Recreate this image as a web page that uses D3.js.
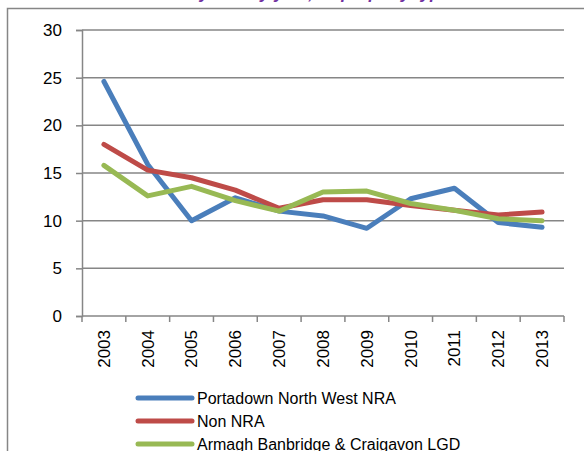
<!DOCTYPE html>
<html>
<head>
<meta charset="utf-8">
<script src="https://cdn.jsdelivr.net/npm/d3@7"></script>
<style>
  body { margin: 0; background: #fff; }
  svg text { font-family: "Liberation Sans", Arial, sans-serif; fill: #000; }
</style>
</head>
<body>
<svg id="chart" width="584" height="451"></svg>
<script>
// data
var years = ['2003', '2004', '2005', '2006', '2007', '2008', '2009', '2010', '2011', '2012', '2013'];
var portadown = [24.6, 15.9, 10.0, 12.4, 11.0, 10.5, 9.2, 12.3, 13.4, 9.8, 9.3];
var nonNra = [18.0, 15.3, 14.5, 13.2, 11.3, 12.2, 12.2, 11.6, 11.1, 10.6, 10.9];
var armagh = [15.8, 12.6, 13.6, 12.1, 11.0, 13.0, 13.1, 11.8, 11.1, 10.2, 10.0];
var seriesNames = ['Portadown North West NRA', 'Non NRA', 'Armagh Banbridge & Craigavon LGD'];
var seriesColors = ['#4a7ebb', '#be4b48', '#98b954'];
var yTicks = [0, 5, 10, 15, 20, 25, 30];

var svg = d3.select('#chart');
var margin = {top: 30, left: 82, right: 20, bottom: 135};
var width = 564 - margin.left;
var height = 316 - margin.top;

// frame and clipped title
svg.append('path')
    .attr('d', 'M7.5,451 L7.5,8.5 L584,8.5')
    .style('fill', 'none')
    .style('stroke', '#868686')
    .style('stroke-width', 1.5);

svg.append('text')
    .attr('x', 300)
    .attr('y', -1)
    .attr('text-anchor', 'middle')
    .style('font-weight', 'bold')
    .style('font-style', 'italic')
    .style('font-size', '17px')
    .style('fill', '#7030a0')
    .text('Vacancy rate by year, all property types');

var g = svg.append('g')
    .attr('transform', 'translate(' + margin.left + ',' + margin.top + ')');

var x = d3.scaleBand().domain(years).range([0, width]);
var y = d3.scaleLinear().domain([0, 30]).range([height, 0]);

// gridlines
g.selectAll('.grid')
    .data(yTicks.slice(1))
    .enter().append('line')
    .attr('class', 'grid')
    .attr('x1', 0)
    .attr('x2', width)
    .attr('y1', function(d) { return y(d); })
    .attr('y2', function(d) { return y(d); })
    .style('stroke', '#868686')
    .style('stroke-width', 1.5);

// y axis
var yAxis = g.append('g')
    .call(d3.axisLeft(y).tickValues(yTicks).tickSize(6).tickPadding(14));
yAxis.selectAll('text').style('font-size', '17px');

// x axis with ticks between categories
var xAxis = g.append('g')
    .attr('transform', 'translate(0,' + height + ')');
xAxis.append('line')
    .attr('x1', 0).attr('x2', width)
    .style('stroke', '#868686').style('stroke-width', 1.5);
xAxis.selectAll('.xtick')
    .data(years.concat(['end']))
    .enter().append('line')
    .attr('class', 'xtick')
    .attr('x1', function(d, i) { return i * x.bandwidth(); })
    .attr('x2', function(d, i) { return i * x.bandwidth(); })
    .attr('y1', 0).attr('y2', 6)
    .style('stroke', '#868686').style('stroke-width', 1.5);
xAxis.selectAll('.xlabel')
    .data(years)
    .enter().append('text')
    .attr('class', 'xlabel')
    .attr('transform', function(d) {
        return 'translate(' + (x(d) + x.bandwidth() / 2) + ',14) rotate(-90)';
    })
    .attr('dy', '0.35em')
    .attr('text-anchor', 'end')
    .style('font-size', '17px')
    .text(function(d) { return d; });

yAxis.select('.domain').style('stroke', '#868686').style('stroke-width', 1.5);
yAxis.selectAll('.tick line').style('stroke', '#868686').style('stroke-width', 1.5);

// lines
var valueLine = d3.line()
    .x(function(d, i) { return x(years[i]) + x.bandwidth() / 2; })
    .y(function(d) { return y(d); });

[portadown, nonNra, armagh].forEach(function(s, i) {
    g.append('path')
        .attr('d', valueLine(s))
        .style('fill', 'none')
        .style('stroke', seriesColors[i])
        .style('stroke-width', 5)
        .style('stroke-linecap', 'round')
        .style('stroke-linejoin', 'round');
});

// legend
var legend = svg.append('g').attr('transform', 'translate(138,398)');
seriesNames.forEach(function(name, i) {
    var row = legend.append('g').attr('transform', 'translate(0,' + (i * 23) + ')');
    row.append('line')
        .attr('x1', 0).attr('x2', 54)
        .style('stroke', seriesColors[i])
        .style('stroke-width', 5)
        .style('stroke-linecap', 'round');
    row.append('text')
        .attr('x', 59)
        .attr('dy', '0.35em')
        .style('font-size', '16px')
        .text(name);
});
</script>
</body>
</html>
